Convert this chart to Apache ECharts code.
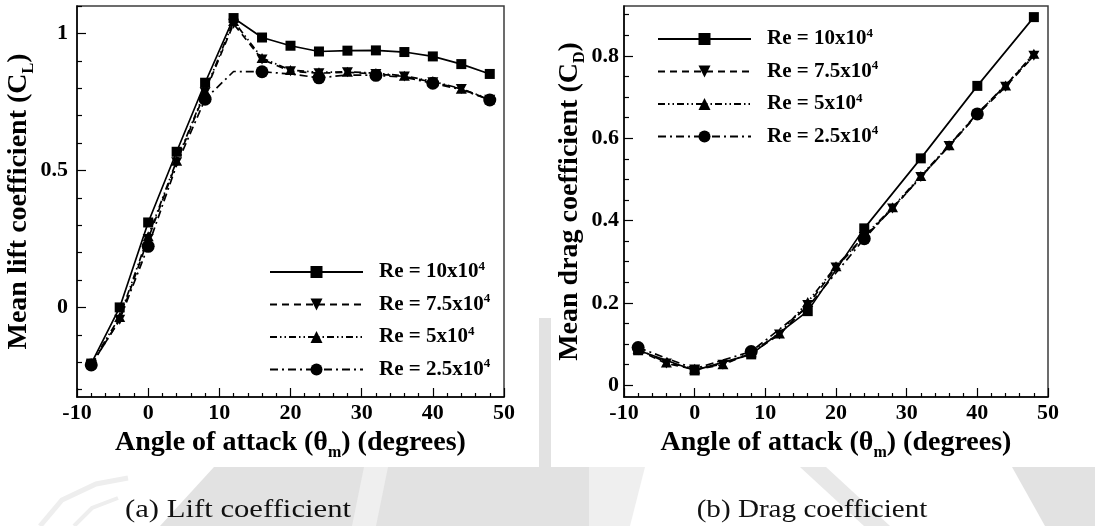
<!DOCTYPE html>
<html>
<head>
<meta charset="utf-8">
<script src="https://cdn.jsdelivr.net/npm/echarts@6/dist/echarts.min.js"></script>
<style>
  html, body { margin: 0; padding: 0; background: #fff; }
  #chart { width: 1095px; height: 526px; }
</style>
</head>
<body>
<div id="chart"></div>
<script>
// Angles of attack (degrees)
const angles = [-8, -4, 0, 4, 8, 12, 16, 20, 24, 28, 32, 36, 40, 44, 48];
const coarseAngles = [-8, 0, 8, 16, 24, 32, 40, 48];

// Mean lift coefficient
const liftRe10  = [-0.205, 0.0, 0.31, 0.568, 0.82, 1.056, 0.985, 0.955, 0.934, 0.937, 0.938, 0.932, 0.916, 0.888, 0.852];
const liftRe75  = [-0.21, -0.045, 0.25, 0.53, 0.785, 1.035, 0.905, 0.862, 0.855, 0.858, 0.852, 0.843, 0.822, 0.797, 0.758];
const liftRe5   = [-0.205, -0.035, 0.26, 0.535, 0.79, 1.045, 0.91, 0.866, 0.858, 0.86, 0.855, 0.845, 0.825, 0.798, 0.76];
const liftRe25  = [-0.21, -0.045, 0.223, 0.52, 0.76, 0.861, 0.86, 0.852, 0.838, 0.848, 0.847, 0.84, 0.818, 0.795, 0.757];
const liftRe25Marked = [-8, 0, 8, 16, 24, 32, 40, 48];

// Mean drag coefficient
const dragRe10  = [0.085, 0.036, 0.075, 0.18, 0.381, 0.551, 0.727, 0.894];          // coarseAngles
const dragRe75  = [0.085, 0.053, 0.038, 0.05, 0.078, 0.123, 0.195, 0.286, 0.36, 0.429, 0.506, 0.581, 0.657, 0.725, 0.80];
const dragRe5   = [0.088, 0.055, 0.04, 0.051, 0.08, 0.126, 0.202, 0.289, 0.362, 0.432, 0.508, 0.583, 0.66, 0.728, 0.805];
const dragRe25  = [0.0915, 0.04, 0.082, 0.19, 0.356, 0.505, 0.659, 0.80];           // coarseAngles
const dragRe25Marked = [-8, 8, 24, 40];

// Reynolds numbers (x10^4) for the legend
const reynolds = ['10', '7.5', '5', '2.5'];
const names = reynolds.map(r => 'Re = ' + r + 'x10^4');

// Axis ticks
const liftMajorTicks = [0, 0.5, 1];
const liftMinorTicks = [-0.3, -0.2, -0.1, 0.1, 0.2, 0.3, 0.4, 0.6, 0.7, 0.8, 0.9, 1.1];
const dragMajorTicks = [0, 0.2, 0.4, 0.6, 0.8];
const dragMinorTicks = [0.05, 0.1, 0.15, 0.25, 0.3, 0.35, 0.45, 0.5, 0.55, 0.65, 0.7, 0.75, 0.85, 0.9];

const FONT = '"Liberation Serif", "Times New Roman", serif';
const INK = '#000';
const FRAME = '#3c3c3c';

const downTriangle = 'path://M0,0 L10,0 L5,9 Z';
const styles = [
  { symbol: 'rect', size: 10, type: 'solid' },
  { symbol: downTriangle, size: [11, 10], type: [7, 5] },
  { symbol: 'triangle', size: [11, 10], type: [7, 3, 1.5, 3, 1.5, 3] },
  { symbol: 'circle', size: 13, type: [8, 4, 2, 4] }
];

function points(xs, ys, marked) {
  return xs.map((x, i) => {
    const item = { value: [x, ys[i]] };
    if (marked && marked.indexOf(x) < 0) item.symbol = 'none';
    return item;
  });
}

function lineSeries(k, xs, ys, axisIdx, marked) {
  const s = styles[k];
  return {
    type: 'line',
    name: names[k],
    xAxisIndex: axisIdx,
    yAxisIndex: axisIdx * 2,
    data: points(xs, ys, marked),
    symbol: s.symbol,
    symbolSize: s.size,
    showAllSymbol: true,
    lineStyle: { color: INK, width: 1.7, type: s.type },
    itemStyle: { color: INK, borderWidth: 0 },
    z: 2 + k
  };
}

const tickLabel = { fontFamily: FONT, fontWeight: 'bold', fontSize: 22, color: INK };

const nameRich = {
  t: { fontFamily: FONT, fontWeight: 'bold', fontSize: 28, color: INK, lineHeight: 36 },
  sub: { fontFamily: FONT, fontWeight: 'bold', fontSize: 16, color: INK, lineHeight: 16, verticalAlign: 'bottom' }
};

function xAxis(gridIndex) {
  return {
    type: 'value', gridIndex, min: -10, max: 50, interval: 10,
    axisLine: { show: true, onZero: false, lineStyle: { color: INK, width: 1.5 } },
    axisTick: { show: true, inside: true, length: 9, lineStyle: { color: INK, width: 1.2 } },
    minorTick: { show: true, splitNumber: 5, length: 4, lineStyle: { color: INK, width: 1.2 } },
    axisLabel: Object.assign({ margin: 5 }, tickLabel),
    splitLine: { show: false },
    name: '{t|Angle of attack (θ}{sub|m}{t|) (degrees)}',
    nameLocation: 'middle', nameGap: 28,
    nameTextStyle: { rich: nameRich }
  };
}

function yAxes(gridIndex, min, max, major, minor, name, gap, margin) {
  return [{
    type: 'value', gridIndex, min, max, position: 'left',
    axisLine: { show: true, onZero: false, lineStyle: { color: INK, width: 1.5 } },
    axisTick: { show: true, inside: true, length: 9, customValues: major, lineStyle: { color: INK, width: 1.2 } },
    axisLabel: Object.assign({ margin, customValues: major }, tickLabel),
    splitLine: { show: false },
    name, nameLocation: 'middle', nameRotate: 90, nameGap: gap,
    nameTextStyle: { rich: nameRich }
  }, {
    type: 'value', gridIndex, min, max, position: 'left', offset: 0,
    axisLine: { show: false, onZero: false },
    axisTick: { show: true, inside: true, length: 5, customValues: minor, lineStyle: { color: INK, width: 1.2 } },
    axisLabel: { show: false },
    splitLine: { show: false }
  }];
}

function legend(left, top) {
  return {
    orient: 'vertical', left, top, padding: 0,
    data: names, selectedMode: false,
    itemWidth: 93, itemHeight: 15, itemGap: 8,
    formatter: n => '{t|' + n.replace('^4', '}{sup|4}'),
    textStyle: {
      padding: [0, 0, 0, 11],
      rich: {
        t: { fontFamily: FONT, fontWeight: 'bold', fontSize: 21, color: INK, lineHeight: 24 },
        sup: { fontFamily: FONT, fontWeight: 'bold', fontSize: 13, color: INK, lineHeight: 13, verticalAlign: 'top' }
      }
    }
  };
}

const chart = echarts.init(document.getElementById('chart'), null, { renderer: 'canvas' });

const wm = '#e2e2e2';
const wmLight = '#efefef';
const captionFont = '26px ' + FONT;

const legendLeft = legend(269, 260);
const legendRight = legend(657, 27);
legendLeft.itemGap = legendRight.itemGap = 10;

chart.setOption({
  animation: false,
  backgroundColor: '#fff',
  grid: [
    { left: 77, top: 6, width: 427, height: 391, show: true, borderColor: FRAME, borderWidth: 1.5, backgroundColor: '#fff' },
    { left: 624, top: 6, width: 424, height: 391, show: true, borderColor: FRAME, borderWidth: 1.5, backgroundColor: '#fff' }
  ],
  xAxis: [xAxis(0), xAxis(1)],
  yAxis: [].concat(
    yAxes(0, -0.327, 1.1, liftMajorTicks, liftMinorTicks, '{t|Mean lift coefficient (C}{sub|L}{t|)}', 28, 9),
    yAxes(1, -0.0285, 0.921, dragMajorTicks, dragMinorTicks, '{t|Mean drag coefficient (C}{sub|D}{t|)}', 20, 5)
  ),
  legend: [legendLeft, legendRight],
  series: [
    lineSeries(0, angles, liftRe10, 0),
    lineSeries(1, angles, liftRe75, 0),
    lineSeries(2, angles, liftRe5, 0),
    lineSeries(3, angles, liftRe25, 0, liftRe25Marked),
    lineSeries(0, coarseAngles, dragRe10, 1),
    lineSeries(1, angles, dragRe75, 1),
    lineSeries(2, angles, dragRe5, 1),
    lineSeries(3, coarseAngles, dragRe25, 1, dragRe25Marked)
  ],
  graphic: [
    // faint background emblem behind the figure panels
    { type: 'rect', z: -10, shape: { x: 539, y: 318, width: 12, height: 149 }, style: { fill: wm } },
    { type: 'polygon', z: -10, shape: { points: [[160, 526], [214, 467], [589, 467], [589, 526]] }, style: { fill: wm } },
    { type: 'polygon', z: -9, shape: { points: [[352, 526], [364, 467], [388, 467], [376, 526]] }, style: { fill: wmLight } },
    { type: 'polygon', z: -10, shape: { points: [[589, 467], [645, 467], [630, 526], [589, 526]] }, style: { fill: wmLight } },
    { type: 'polygon', z: -10, shape: { points: [[800, 467], [826, 467], [890, 526], [864, 526]] }, style: { fill: '#e8e8e8' } },
    { type: 'polygon', z: -10, shape: { points: [[1012, 467], [1095, 467], [1095, 526], [1045, 526]] }, style: { fill: wm } },
    { type: 'polyline', z: -10, shape: { points: [[40, 526], [62, 500], [96, 484], [128, 478]] }, style: { stroke: '#eeeeee', lineWidth: 5, fill: null } },
    { type: 'polyline', z: -10, shape: { points: [[74, 526], [92, 508], [118, 498]] }, style: { stroke: '#eeeeee', lineWidth: 4, fill: null } },
    // sub-figure captions
    { type: 'text', z: 10, x: 238, y: 510, scaleX: 1.18, style: { text: '(a) Lift coefficient', font: captionFont, fill: '#111', align: 'center', verticalAlign: 'middle' } },
    { type: 'text', z: 10, x: 812, y: 510, scaleX: 1.12, style: { text: '(b) Drag coefficient', font: captionFont, fill: '#111', align: 'center', verticalAlign: 'middle' } }
  ]
});
</script>
</body>
</html>
